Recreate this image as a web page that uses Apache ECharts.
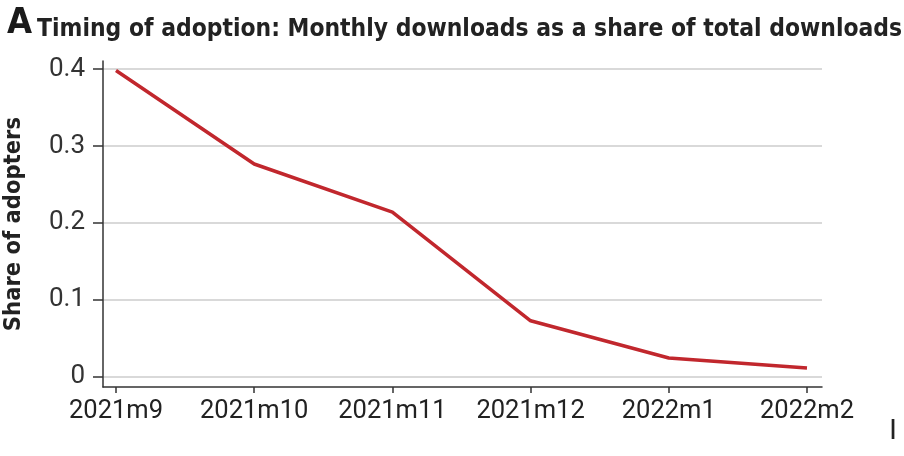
<!DOCTYPE html>
<html>
<head>
<meta charset="utf-8">
<script src="https://cdn.jsdelivr.net/npm/echarts@6/dist/echarts.min.js"></script>
<style>html,body{margin:0;padding:0;background:#fff}#c{width:904px;height:456px}</style>
</head>
<body>
<div id="c"></div>
<script>
const categories = ['2021m9', '2021m10', '2021m11', '2021m12', '2022m1', '2022m2'];
const shareOfAdopters = [0.398, 0.2766, 0.214, 0.073, 0.0247, 0.0117];
const yTicks = [0, 0.1, 0.2, 0.3, 0.4];
const yTickLabels = ['0', '0.1', '0.2', '0.3', '0.4'];
const xTicks = [0, 1, 2, 3, 4, 5];

const titleFont = '"DejaVu Sans Condensed", "DejaVu Sans", sans-serif';
const labelFont = 'Roboto, "Liberation Sans", sans-serif';

const chart = echarts.init(document.getElementById('c'), null, {renderer: 'canvas'});
chart.setOption({
  animation: false,
  backgroundColor: '#fff',
  title: [{
    left: 2, top: -3,
    text: '{a|A} {b|Timing of adoption: Monthly downloads as a share of total downloads}',
    textStyle: {
      rich: {
        a: {fontFamily: titleFont, fontWeight: 'bold', fontSize: 36, color: '#1a1a1a', lineHeight: 40, verticalAlign: 'bottom'},
        b: {fontFamily: titleFont, fontWeight: 'bold', fontSize: 24.4, color: '#222', lineHeight: 40, verticalAlign: 'bottom'}
      }
    }
  }, {
    left: 884, top: 411,
    text: 'I',
    textStyle: {fontFamily: '"Liberation Sans", sans-serif', fontWeight: 'normal', fontSize: 29, color: '#222'}
  }],
  grid: {left: 103, right: 82, top: 61, bottom: 69, containLabel: false, outerBoundsMode: 'none'},
  xAxis: {
    type: 'value',
    min: -0.094, max: 5.1085,
    axisLine: {show: true, onZero: false, lineStyle: {color: '#333', width: 1.5}},
    axisTick: {show: true, length: 6, customValues: xTicks, lineStyle: {color: '#333', width: 1.5}},
    axisLabel: {
      customValues: xTicks, margin: 12,
      fontFamily: labelFont, fontSize: 25.5, color: '#222',
      formatter: v => categories[Math.round(v)]
    },
    splitLine: {show: false}
  },
  yAxis: {
    type: 'value',
    min: -0.013, max: 0.4104,
    name: 'Share of adopters',
    nameLocation: 'middle',
    nameGap: 77,
    nameTextStyle: {fontFamily: titleFont, fontWeight: 'bold', fontSize: 23.5, color: '#222'},
    axisLine: {show: true, onZero: false, lineStyle: {color: '#333', width: 1.5}},
    axisTick: {show: true, length: 10, customValues: yTicks, lineStyle: {color: '#333', width: 1.5}},
    axisLabel: {
      customValues: yTicks, margin: 18,
      fontFamily: labelFont, fontSize: 26, color: '#333',
      formatter: v => yTickLabels[yTicks.findIndex(t => Math.abs(t - v) < 1e-6)]
    },
    splitLine: {show: true, lineStyle: {color: '#cccccc', width: 1.5}}
  },
  series: [{
    type: 'line',
    data: categories.map((c, i) => [i, shareOfAdopters[i]]),
    symbol: 'none',
    lineStyle: {color: '#c1272d', width: 3.5},
    itemStyle: {color: '#c1272d'}
  }]
});
</script>
</body>
</html>
